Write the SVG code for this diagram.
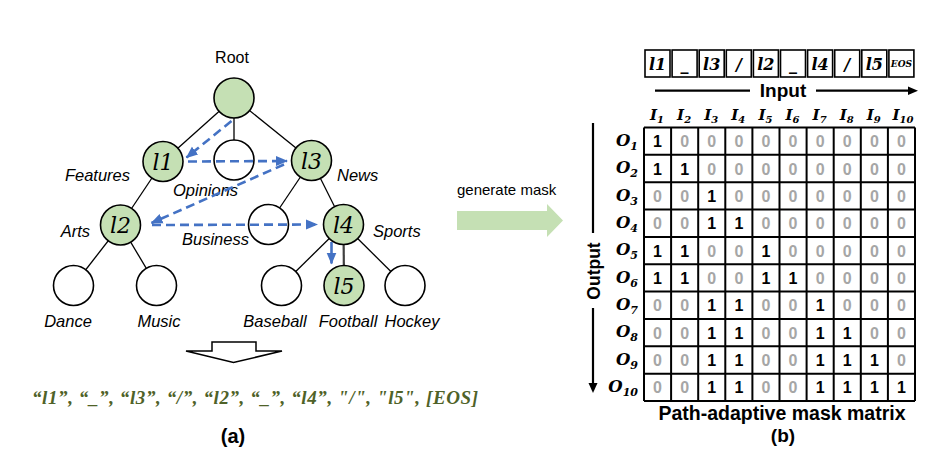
<svg xmlns="http://www.w3.org/2000/svg" width="949" height="463" viewBox="0 0 949 463">
<style>
.edge{stroke:#000;stroke-width:1.3;fill:none}
.node{stroke:#000;stroke-width:1.6}
.g{fill:#C5E0B4}
.w{fill:#fff}
.nl{font-family:"DejaVu Serif",serif;font-style:italic;font-size:22px;text-anchor:middle;fill:#000}
.lab{font-family:"Liberation Sans",Arial,sans-serif;font-style:italic;font-size:16.5px;fill:#000}
.blue{stroke:#4472C4;stroke-width:2.6;fill:none;stroke-dasharray:9 5}
.bs{stroke:#4472C4;stroke-width:2.6;fill:none}
.sans{font-family:"Liberation Sans",Arial,sans-serif}
.b{font-weight:bold}
.grid{stroke:#000;stroke-width:2;fill:none}
.ib{stroke:#000;stroke-width:1.6;fill:#fff}
.it{font-family:"DejaVu Serif",serif;font-style:italic;font-weight:bold;font-size:16px;text-anchor:middle}
.hd{font-family:"DejaVu Serif",serif;font-style:italic;font-weight:bold;font-size:15px}
.ol{font-family:"DejaVu Serif",serif;font-style:italic;font-weight:bold;font-size:16.5px;text-anchor:end}
.one{font-family:"Liberation Sans",Arial,sans-serif;font-weight:bold;font-size:16px;text-anchor:middle;fill:#000}
.zero{font-family:"Liberation Sans",Arial,sans-serif;font-weight:bold;font-size:16px;text-anchor:middle;fill:#A6A6A6}
</style>
<defs>
<marker id="ah" markerUnits="userSpaceOnUse" markerWidth="12" markerHeight="12" viewBox="0 0 12 12" refX="11" refY="6" orient="auto">
<path d="M0,1 L12,6 L0,11 Z" fill="#4472C4"/>
</marker>
</defs>
<rect width="949" height="463" fill="#fff"/>

<g id="tree-edges">
<line class="edge" x1="234" y1="98" x2="163" y2="161.5"/>
<line class="edge" x1="234" y1="98" x2="234" y2="160"/>
<line class="edge" x1="234" y1="98" x2="311.5" y2="160.5"/>
<line class="edge" x1="163" y1="161.5" x2="120.5" y2="225"/>
<line class="edge" x1="311.5" y1="160.5" x2="268.5" y2="224.5"/>
<line class="edge" x1="311.5" y1="160.5" x2="343.5" y2="224.5"/>
<line class="edge" x1="120.5" y1="225" x2="73.5" y2="285.5"/>
<line class="edge" x1="120.5" y1="225" x2="156.5" y2="285.5"/>
<line class="edge" x1="343.5" y1="224.5" x2="281.5" y2="285.5"/>
<line x1="343.5" y1="224.5" x2="344" y2="285.5" stroke="#404040" stroke-width="2.2"/>
<line class="edge" x1="343.5" y1="224.5" x2="405" y2="285.5"/>
</g>

<g id="node-root"><circle class="node g" cx="234" cy="98" r="20"/><text class="sans" x="232" y="63" font-size="16" text-anchor="middle">Root</text></g>
<g id="node-l1"><circle class="node g" cx="163" cy="161.5" r="20"/><text class="nl" x="163" y="169.5">l1</text><text class="lab" x="130" y="181" text-anchor="end">Features</text></g>
<g id="node-opinions"><circle class="node w" cx="234" cy="160" r="20"/><text class="lab" x="173" y="196">Opinions</text></g>
<g id="node-l3"><circle class="node g" cx="311.5" cy="160.5" r="20"/><text class="nl" x="311.5" y="168.5">l3</text><text class="lab" x="337" y="181">News</text></g>
<g id="node-l2"><circle class="node g" cx="120.5" cy="225" r="20"/><text class="nl" x="120.5" y="233">l2</text><text class="lab" x="90" y="237" text-anchor="end">Arts</text></g>
<g id="node-business"><circle class="node w" cx="268.5" cy="224.5" r="20"/><text class="lab" x="182" y="245">Business</text></g>
<g id="node-l4"><circle class="node g" cx="343.5" cy="224.5" r="20"/><text class="nl" x="343.5" y="232.5">l4</text><text class="lab" x="373" y="237">Sports</text></g>
<g id="node-dance"><circle class="node w" cx="73.5" cy="285.5" r="20"/><text class="lab" x="68" y="327" text-anchor="middle">Dance</text></g>
<g id="node-music"><circle class="node w" cx="156.5" cy="285.5" r="20"/><text class="lab" x="159" y="327" text-anchor="middle">Music</text></g>
<g id="node-baseball"><circle class="node w" cx="281.5" cy="285.5" r="20"/><text class="lab" x="275" y="327" text-anchor="middle">Baseball</text></g>
<g id="node-l5"><circle class="node g" cx="344" cy="285.5" r="20"/><text class="nl" x="344" y="293.5">l5</text><text class="lab" x="348" y="327" text-anchor="middle">Football</text></g>
<g id="node-hockey"><circle class="node w" cx="405" cy="285.5" r="20"/><text class="lab" x="412" y="327" text-anchor="middle">Hockey</text></g>

<g id="connectors">
<line class="blue" x1="231.5" y1="121" x2="186.5" y2="157.5" marker-end="url(#ah)"/>
<line class="blue" x1="188" y1="161.5" x2="287" y2="161" marker-end="url(#ah)"/>
<line class="blue" x1="284" y1="164.5" x2="151.5" y2="223" marker-end="url(#ah)"/>
<line class="blue" x1="152" y1="225" x2="317" y2="224.5" marker-end="url(#ah)"/>
<line class="bs" x1="331.5" y1="242" x2="331.5" y2="263.5" marker-end="url(#ah)"/>
<polygon points="212,342 256,342 256,351 282,351 233.5,362.5 186,351 212,351" fill="#fff" stroke="#000" stroke-width="1.5"/>
<polygon points="457,211 547,211 547,204 563,220.5 547,237 547,230 457,230" fill="#C5E0B4"/>
<line x1="655" y1="90.7" x2="750" y2="90.7" stroke="#000" stroke-width="2.2"/>
<line x1="816" y1="90.7" x2="910" y2="90.7" stroke="#000" stroke-width="2.2"/>
<polygon points="918,90.7 908,86.5 908,95" fill="#000"/>
<line x1="593" y1="123" x2="593" y2="233" stroke="#000" stroke-width="2.2"/>
<line x1="593" y1="308" x2="593" y2="384" stroke="#000" stroke-width="2.2"/>
<polygon points="593,393 588.5,383 597.5,383" fill="#000"/>
</g>

<text x="32" y="404" font-family="'Liberation Serif',serif" font-style="italic" font-weight="bold" font-size="19" fill="#4F6228" textLength="446" lengthAdjust="spacing">“l1”, “_”, “l3”, “/”, “l2”, “_”, “l4”, "/", "l5", [EOS]</text>
<text class="sans b" x="233" y="443" font-size="20" text-anchor="middle">(a)</text>
<text class="sans" x="457" y="195" font-size="15">generate mask</text>

<g id="input-row">
<rect class="ib" x="645" y="50" width="25" height="27"/><text class="it" x="657.5" y="70">l1</text>
<rect class="ib" x="672.1" y="50" width="25" height="27"/><text class="it" x="684.6" y="70">_</text>
<rect class="ib" x="699.2" y="50" width="25" height="27"/><text class="it" x="711.7" y="70">l3</text>
<rect class="ib" x="726.3" y="50" width="25" height="27"/><text class="it" x="738.8" y="70">/</text>
<rect class="ib" x="753.4" y="50" width="25" height="27"/><text class="it" x="765.9" y="70">l2</text>
<rect class="ib" x="780.5" y="50" width="25" height="27"/><text class="it" x="793" y="70">_</text>
<rect class="ib" x="807.6" y="50" width="25" height="27"/><text class="it" x="820.1" y="70">l4</text>
<rect class="ib" x="834.7" y="50" width="25" height="27"/><text class="it" x="847.2" y="70">/</text>
<rect class="ib" x="861.8" y="50" width="25" height="27"/><text class="it" x="874.3" y="70">l5</text>
<rect class="ib" x="888.9" y="50" width="25" height="27"/><text class="it" x="901.4" y="67" style="font-size:9px">EOS</text>
<text class="sans b" x="783" y="97" font-size="19" text-anchor="middle">Input</text>
</g>

<g id="headers">
<text class="hd" x="650" y="119.5">I<tspan dy="3" font-size="10">1</tspan></text>
<text class="hd" x="677.1" y="119.5">I<tspan dy="3" font-size="10">2</tspan></text>
<text class="hd" x="704.2" y="119.5">I<tspan dy="3" font-size="10">3</tspan></text>
<text class="hd" x="731.3" y="119.5">I<tspan dy="3" font-size="10">4</tspan></text>
<text class="hd" x="758.4" y="119.5">I<tspan dy="3" font-size="10">5</tspan></text>
<text class="hd" x="785.5" y="119.5">I<tspan dy="3" font-size="10">6</tspan></text>
<text class="hd" x="812.6" y="119.5">I<tspan dy="3" font-size="10">7</tspan></text>
<text class="hd" x="839.7" y="119.5">I<tspan dy="3" font-size="10">8</tspan></text>
<text class="hd" x="866.8" y="119.5">I<tspan dy="3" font-size="10">9</tspan></text>
<text class="hd" x="892.5" y="119.5">I<tspan dy="3" font-size="10">10</tspan></text>
<text class="ol" x="638" y="146">O<tspan dy="4" font-size="11">1</tspan></text>
<text class="ol" x="638" y="173.3">O<tspan dy="4" font-size="11">2</tspan></text>
<text class="ol" x="638" y="200.7">O<tspan dy="4" font-size="11">3</tspan></text>
<text class="ol" x="638" y="228">O<tspan dy="4" font-size="11">4</tspan></text>
<text class="ol" x="638" y="255.4">O<tspan dy="4" font-size="11">5</tspan></text>
<text class="ol" x="638" y="282.7">O<tspan dy="4" font-size="11">6</tspan></text>
<text class="ol" x="638" y="310.1">O<tspan dy="4" font-size="11">7</tspan></text>
<text class="ol" x="638" y="337.4">O<tspan dy="4" font-size="11">8</tspan></text>
<text class="ol" x="638" y="364.8">O<tspan dy="4" font-size="11">9</tspan></text>
<text class="ol" x="638" y="392.1">O<tspan dy="4" font-size="11">10</tspan></text>
<text class="sans b" transform="translate(599.5,271) rotate(-90)" font-size="17.5" text-anchor="middle">Output</text>
</g>

<g id="matrix">
<path class="grid" d="M644,127.5V401M671.1,127.5V401M698.2,127.5V401M725.3,127.5V401M752.4,127.5V401M779.5,127.5V401M806.6,127.5V401M833.7,127.5V401M860.8,127.5V401M887.9,127.5V401M915,127.5V401M644,127.5H915M644,154.85H915M644,182.2H915M644,209.55H915M644,236.9H915M644,264.25H915M644,291.6H915M644,318.95H915M644,346.3H915M644,373.65H915M644,401H915"/>
<g>
<text class="one" x="657.55" y="147.2">1</text><text class="zero" x="684.65" y="147.2">0</text><text class="zero" x="711.75" y="147.2">0</text><text class="zero" x="738.85" y="147.2">0</text><text class="zero" x="765.95" y="147.2">0</text><text class="zero" x="793.05" y="147.2">0</text><text class="zero" x="820.15" y="147.2">0</text><text class="zero" x="847.25" y="147.2">0</text><text class="zero" x="874.35" y="147.2">0</text><text class="zero" x="901.45" y="147.2">0</text>
<text class="one" x="657.55" y="174.5">1</text><text class="one" x="684.65" y="174.5">1</text><text class="zero" x="711.75" y="174.5">0</text><text class="zero" x="738.85" y="174.5">0</text><text class="zero" x="765.95" y="174.5">0</text><text class="zero" x="793.05" y="174.5">0</text><text class="zero" x="820.15" y="174.5">0</text><text class="zero" x="847.25" y="174.5">0</text><text class="zero" x="874.35" y="174.5">0</text><text class="zero" x="901.45" y="174.5">0</text>
<text class="zero" x="657.55" y="201.9">0</text><text class="zero" x="684.65" y="201.9">0</text><text class="one" x="711.75" y="201.9">1</text><text class="zero" x="738.85" y="201.9">0</text><text class="zero" x="765.95" y="201.9">0</text><text class="zero" x="793.05" y="201.9">0</text><text class="zero" x="820.15" y="201.9">0</text><text class="zero" x="847.25" y="201.9">0</text><text class="zero" x="874.35" y="201.9">0</text><text class="zero" x="901.45" y="201.9">0</text>
<text class="zero" x="657.55" y="229.2">0</text><text class="zero" x="684.65" y="229.2">0</text><text class="one" x="711.75" y="229.2">1</text><text class="one" x="738.85" y="229.2">1</text><text class="zero" x="765.95" y="229.2">0</text><text class="zero" x="793.05" y="229.2">0</text><text class="zero" x="820.15" y="229.2">0</text><text class="zero" x="847.25" y="229.2">0</text><text class="zero" x="874.35" y="229.2">0</text><text class="zero" x="901.45" y="229.2">0</text>
<text class="one" x="657.55" y="256.6">1</text><text class="one" x="684.65" y="256.6">1</text><text class="zero" x="711.75" y="256.6">0</text><text class="zero" x="738.85" y="256.6">0</text><text class="one" x="765.95" y="256.6">1</text><text class="zero" x="793.05" y="256.6">0</text><text class="zero" x="820.15" y="256.6">0</text><text class="zero" x="847.25" y="256.6">0</text><text class="zero" x="874.35" y="256.6">0</text><text class="zero" x="901.45" y="256.6">0</text>
<text class="one" x="657.55" y="283.9">1</text><text class="one" x="684.65" y="283.9">1</text><text class="zero" x="711.75" y="283.9">0</text><text class="zero" x="738.85" y="283.9">0</text><text class="one" x="765.95" y="283.9">1</text><text class="one" x="793.05" y="283.9">1</text><text class="zero" x="820.15" y="283.9">0</text><text class="zero" x="847.25" y="283.9">0</text><text class="zero" x="874.35" y="283.9">0</text><text class="zero" x="901.45" y="283.9">0</text>
<text class="zero" x="657.55" y="311.3">0</text><text class="zero" x="684.65" y="311.3">0</text><text class="one" x="711.75" y="311.3">1</text><text class="one" x="738.85" y="311.3">1</text><text class="zero" x="765.95" y="311.3">0</text><text class="zero" x="793.05" y="311.3">0</text><text class="one" x="820.15" y="311.3">1</text><text class="zero" x="847.25" y="311.3">0</text><text class="zero" x="874.35" y="311.3">0</text><text class="zero" x="901.45" y="311.3">0</text>
<text class="zero" x="657.55" y="338.6">0</text><text class="zero" x="684.65" y="338.6">0</text><text class="one" x="711.75" y="338.6">1</text><text class="one" x="738.85" y="338.6">1</text><text class="zero" x="765.95" y="338.6">0</text><text class="zero" x="793.05" y="338.6">0</text><text class="one" x="820.15" y="338.6">1</text><text class="one" x="847.25" y="338.6">1</text><text class="zero" x="874.35" y="338.6">0</text><text class="zero" x="901.45" y="338.6">0</text>
<text class="zero" x="657.55" y="366">0</text><text class="zero" x="684.65" y="366">0</text><text class="one" x="711.75" y="366">1</text><text class="one" x="738.85" y="366">1</text><text class="zero" x="765.95" y="366">0</text><text class="zero" x="793.05" y="366">0</text><text class="one" x="820.15" y="366">1</text><text class="one" x="847.25" y="366">1</text><text class="one" x="874.35" y="366">1</text><text class="zero" x="901.45" y="366">0</text>
<text class="zero" x="657.55" y="393.3">0</text><text class="zero" x="684.65" y="393.3">0</text><text class="one" x="711.75" y="393.3">1</text><text class="one" x="738.85" y="393.3">1</text><text class="zero" x="765.95" y="393.3">0</text><text class="zero" x="793.05" y="393.3">0</text><text class="one" x="820.15" y="393.3">1</text><text class="one" x="847.25" y="393.3">1</text><text class="one" x="874.35" y="393.3">1</text><text class="one" x="901.45" y="393.3">1</text>
</g>
<text class="sans b" x="782" y="420" font-size="19.5" text-anchor="middle">Path-adaptive mask matrix</text>
<text class="sans b" x="783" y="442" font-size="19" text-anchor="middle">(b)</text>
</g>
</svg>
